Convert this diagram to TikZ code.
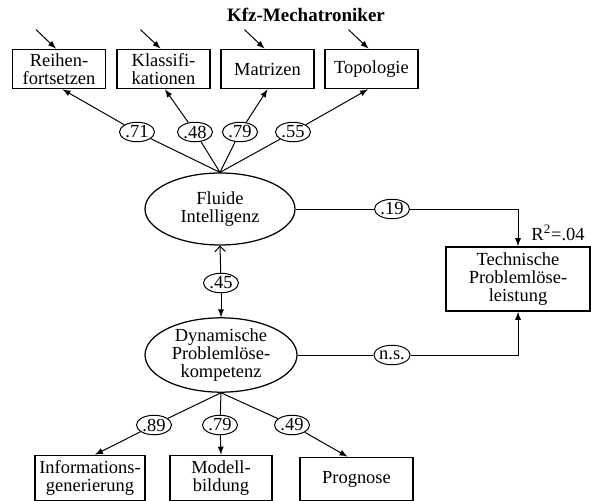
\documentclass[tikz,border=0pt]{standalone}
\usepackage{fontspec}
\setmainfont{Liberation Serif}
\usetikzlibrary{arrows,arrows.meta,shapes.geometric}
\tikzset{
  textnode/.style = {align=center, inner sep=0pt, text centered, font=\fontsize{10.5}{10.2}\selectfont},
  obs_box/.style = {textnode, rectangle, draw=black, line width=0.35mm, minimum height=0.78cm},
  lat_ell/.style = {textnode, ellipse, draw=black, line width=0.25mm, minimum width=3cm, minimum height=1.44cm},
  coef/.style = {textnode, ellipse, draw=black, line width=0.2mm, minimum width=0.7cm, minimum height=0.39cm},
}
\begin{document}
\begin{tikzpicture}[x=0.02cm, y=-0.02cm, line width=0.2mm]
  \useasboundingbox (0,0) rectangle (591,500);

  \node [textnode, font=\fontsize{10.8}{12}\selectfont\bfseries] (title) at (306,15) {Kfz-Mechatroniker};

  % indicators of fluid intelligence
  \node [obs_box, minimum width=1.86cm] (reihen) at (59,69) {Reihen-\\fortsetzen};
  \node [obs_box, minimum width=1.86cm] (klass) at (163.5,69) {Klassifi-\\kationen};
  \node [obs_box, minimum width=1.86cm] (matrix) at (267.5,69) {Matrizen};
  \node [obs_box, minimum width=1.86cm] (topo) at (371.5,69) {Topologie};

  \foreach \b in {reihen,klass,matrix,topo}{
    \coordinate (e\b) at ([shift={(-23,-19)}]\b.north);
    \draw [-latex] (e\b) -- ([xshift=-0.06cm]\b.north);
  }

  \node [lat_ell] (fi) at (220,209) {Fluide\\Intelligenz};

  \node [coef] (c71) at (137,132) {.71};
  \node [coef] (c48) at (195,132) {.48};
  \node [coef] (c79) at (240,132) {.79};
  \node [coef] (c55) at (293,132) {.55};

  \draw [-latex] (fi.north) -- (c71) -- ([xshift=0.07cm]reihen.south);
  \draw [-latex] (fi.north) -- (c48) -- ([xshift=0.03cm]klass.south);
  \draw [-latex] (fi.north) -- (c79) -- (matrix.south);
  \draw [-latex] (fi.north) -- (c55) -- ([xshift=-0.07cm]topo.south);

  % criterion
  \node [obs_box, minimum width=2.88cm, minimum height=1.28cm] (tech) at (518,279) {Technische\\Problemlöse-\\leistung};
  \node [textnode] (rsq) at (558,233) {R\textsuperscript{2}=.04};

  \node [coef] (c19) at (392,209) {.19};
  \draw (fi.east) -- (c19);
  \draw [-latex] (c19) -| (tech.north);

  % dynamic problem solving
  \node [lat_ell, minimum width=3.04cm] (dps) at (221,355) {Dynamische\\Problemlöse-\\kompetenz};

  \node [coef] (c45) at (221,283) {.45};
  \draw [{Straight Barb[length=3pt,width=6pt]}-] (fi.south) -- (c45);
  \draw [-latex] (c45) -- (dps.north);

  \node [coef] (cns) at (392,355) {n.s.};
  \draw (dps.east) -- (cns);
  \draw [-latex] (cns) -| (tech.south);

  \node [obs_box, minimum width=2.2cm, minimum height=0.9cm] (info) at (90,478) {Informations-\\generierung};
  \node [obs_box, minimum width=2.04cm, minimum height=0.9cm] (modell) at (221,478) {Modell-\\bildung};
  \node [obs_box, minimum width=2.26cm, minimum height=0.86cm] (prog) at (356.5,479) {Prognose};

  \node [coef] (c89) at (154,425) {.89};
  \node [coef] (c79b) at (220,425) {.79};
  \node [coef] (c49) at (292,425) {.49};

  \draw [-latex] (dps.south) -- (c89) -- ([xshift=0.1cm]info.north);
  \draw [-latex] (dps.south) -- (c79b) -- (modell.north);
  \draw [-latex] (dps.south) -- (c49) -- ([xshift=-0.18cm]prog.north);
\end{tikzpicture}
\end{document}
